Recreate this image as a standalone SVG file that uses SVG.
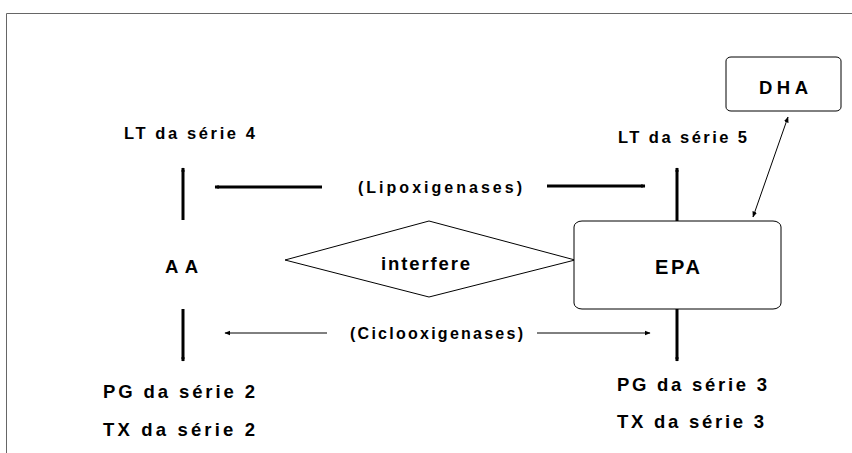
<svg xmlns="http://www.w3.org/2000/svg" width="852" height="453" viewBox="0 0 852 453">
<style>
text{font-family:"Liberation Sans",Arial,sans-serif;font-weight:bold;fill:#000}
.t15{font-size:16.5px}
.t17{font-size:18.5px}
.t19{font-size:20px}
.tl{font-size:16px}
.box{fill:#fff;stroke:#000;stroke-width:1}
.thick{stroke:#000;stroke-width:3;fill:none}
.thin{stroke:#000;stroke-width:1;fill:none}
</style>
<defs>
<marker id="ah" viewBox="0 0 10 10" refX="9" refY="5" markerWidth="6" markerHeight="6" markerUnits="userSpaceOnUse" orient="auto-start-reverse">
<path d="M0,1 L10,5 L0,9 z" fill="#000"/>
</marker>
<marker id="ahk" viewBox="0 0 10 10" refX="9" refY="5" markerWidth="5" markerHeight="4" markerUnits="userSpaceOnUse" orient="auto-start-reverse">
<path d="M0,0 L10,5 L0,10 z" fill="#000"/>
</marker>
</defs>
<rect x="0" y="0" width="852" height="453" fill="#fff"/>
<path d="M852,13.5 H6.5 V453" fill="none" stroke="#666" stroke-width="1"/>

<g id="connectors">
<line class="thick" x1="183" y1="220" x2="183" y2="168" marker-end="url(#ahk)"/>
<line class="thick" x1="183" y1="309" x2="183" y2="361" marker-end="url(#ahk)"/>
<line class="thick" x1="677" y1="221" x2="677" y2="168" marker-end="url(#ahk)"/>
<line class="thick" x1="677" y1="309" x2="677" y2="361" marker-end="url(#ahk)"/>
<line class="thick" x1="322" y1="187" x2="215" y2="187" marker-end="url(#ahk)"/>
<line class="thick" x1="547" y1="186" x2="645" y2="186" marker-end="url(#ahk)"/>
<line class="thin" x1="327" y1="333" x2="225" y2="333" marker-end="url(#ah)"/>
<line class="thin" x1="537" y1="333" x2="650" y2="333" marker-end="url(#ah)"/>
<line class="thin" x1="753" y1="217" x2="788" y2="117" marker-start="url(#ah)" marker-end="url(#ah)"/>
</g>

<g id="interfere">
<polygon class="box" points="285,260 429,221 575,260 429,297"/>
<text class="t17" x="381" y="270" textLength="89" lengthAdjust="spacing">interfere</text>
</g>

<g id="epa">
<rect class="box" x="574" y="221" width="207" height="88" rx="8" ry="6"/>
<text class="t19" x="655" y="274" textLength="45" lengthAdjust="spacing">EPA</text>
</g>

<g id="dha">
<rect class="box" x="726" y="57" width="115" height="54" rx="5" ry="4"/>
<text class="t17" x="759" y="94" textLength="49" lengthAdjust="spacing">DHA</text>
</g>

<g id="aa">
<text class="t17" x="165" y="273" textLength="33" lengthAdjust="spacing">AA</text>
</g>

<g id="lt4">
<text class="t15" x="124" y="139" textLength="131" lengthAdjust="spacing">LT da série 4</text>
</g>
<g id="lt5">
<text class="t15" x="618" y="143" textLength="129" lengthAdjust="spacing">LT da série 5</text>
</g>
<g id="pg2">
<text class="t17" x="103" y="398" textLength="152" lengthAdjust="spacing">PG da série 2</text>
<text class="t17" x="103" y="436" textLength="152" lengthAdjust="spacing">TX da série 2</text>
</g>
<g id="pg3">
<text class="t17" x="617" y="391" textLength="150" lengthAdjust="spacing">PG da série 3</text>
<text class="t17" x="617" y="428" textLength="147" lengthAdjust="spacing">TX da série 3</text>
</g>
<g id="labels">
<text class="tl" x="358" y="193" textLength="164" lengthAdjust="spacing">(Lipoxigenases)</text>
<text class="tl" x="350" y="339" textLength="173" lengthAdjust="spacing">(Ciclooxigenases)</text>
</g>
</svg>
